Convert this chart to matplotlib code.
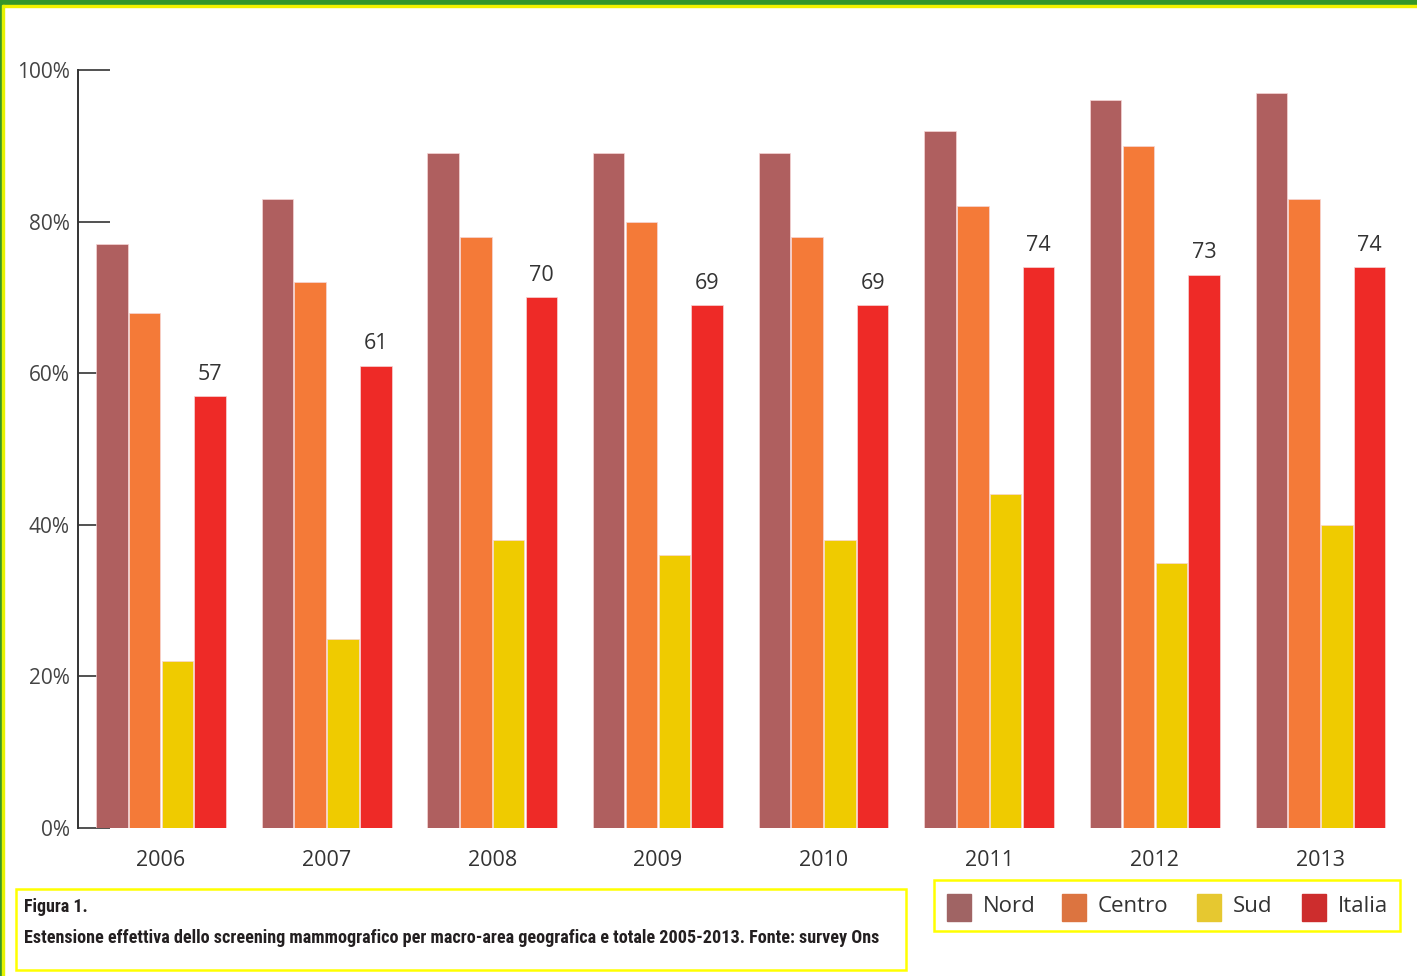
import matplotlib
matplotlib.use("Agg")
import matplotlib.pyplot as plt
from matplotlib.patches import Rectangle
import numpy as np

years = ["2006", "2007", "2008", "2009", "2010", "2011", "2012", "2013"]
series_names = ["Nord", "Centro", "Sud", "Italia"]
nord = [77, 83, 89, 89, 89, 92, 96, 97]
centro = [68, 72, 78, 80, 78, 82, 90, 83]
sud = [22, 25, 38, 36, 38, 44, 35, 40]
italia = [57, 61, 70, 69, 69, 74, 73, 74]
yticks = [0, 20, 40, 60, 80, 100]
ytick_labels = ["0%", "20%", "40%", "60%", "80%", "100%"]
caption_title = "Figura 1."
caption_text = ("Estensione effettiva dello screening mammografico per macro-area "
                "geografica e totale 2005-2013. Fonte: survey Ons")

bar_colors = ["#AF5F5F", "#F47A38", "#EFCB00", "#EE2A27"]
legend_colors = ["#A06464", "#DC7440", "#E6C830", "#CD2D2D"]

plt.rcParams['font.family'] = ['Open Sans', 'DejaVu Sans']

W, H = 1417, 976
fig = plt.figure(figsize=(W / 100, H / 100), dpi=100)
fig.patch.set_facecolor("white")

ax = fig.add_axes([78 / W, 1 - 828 / H, (1400 - 78) / W, (828 - 70) / H])
x = np.arange(len(years))
pitch = 0.198
width = 0.19
all_series = [nord, centro, sud, italia]
for i, (vals, col) in enumerate(zip(all_series, bar_colors)):
    bars = ax.bar(x + (i - 1.5) * pitch, vals, width=width, color=col,
                  edgecolor="#F6D6D6", linewidth=0.5, zorder=2)
    if series_names[i] == "Italia":
        for b, v in zip(bars, vals):
            ax.text(b.get_x() + b.get_width() / 2, v + 1.5, f"{v}",
                    ha="center", va="bottom", fontsize=15.5, color="#333333")

ax.set_xlim(-0.501, 7.48)
ax.set_ylim(0, 100)
ax.set_yticks(yticks)
ax.set_yticklabels(ytick_labels)
ax.set_xticks(x)
ax.set_xticklabels(years)
ax.set_axisbelow(True)
for s in ["top", "right", "bottom"]:
    ax.spines[s].set_visible(False)
ax.spines["left"].set_color("#333333")
ax.spines["left"].set_linewidth(1.4)
ax.tick_params(axis="y", direction="in", length=23, width=1.2, color="#333333",
               labelsize=15, labelcolor="#444444", pad=6)
ax.tick_params(axis="x", length=0, labelsize=15.5, labelcolor="#333333", pad=16)
ax.set_facecolor("none")

# overlay in pixel coordinates for frame, caption and legend
ov = fig.add_axes([0, 0, 1, 1], zorder=-1)
ov.set_xlim(0, W)
ov.set_ylim(H, 0)
ov.axis("off")
ov.add_patch(Rectangle((0, 0), W, 5, color="#35962A"))
ov.add_patch(Rectangle((0, 5), W, 2, color="#F2F200"))
ov.add_patch(Rectangle((0, 0), 2, H, color="#35962A"))
ov.add_patch(Rectangle((2, 5), 2, H, color="#E5F200"))

ov2 = fig.add_axes([0, 0, 1, 1], zorder=5)
ov2.set_xlim(0, W)
ov2.set_ylim(H, 0)
ov2.axis("off")
ov2.patch.set_alpha(0)
cap_family = ["Roboto Condensed", "Open Sans Condensed", "Lato", "DejaVu Sans"]
ov2.add_patch(Rectangle((16, 889), 890, 81, fill=False, edgecolor="#FFFF00", linewidth=1.8))
ov2.text(24, 907, caption_title, fontsize=13, fontweight="bold", color="#231F20",
         va="center", ha="left", family=cap_family)
ov2.text(24, 938, caption_text, fontsize=13.1, fontweight="bold", color="#231F20",
         va="center", ha="left", family=cap_family)

ov2.add_patch(Rectangle((934, 880), 466, 51, fill=False, edgecolor="#FFFF00", linewidth=1.8))
patch_x = [947, 1062, 1197, 1302]
for px, name, col in zip(patch_x, series_names, legend_colors):
    ov2.add_patch(Rectangle((px, 894), 24, 27, color=col))
    ov2.text(px + 36, 906, name, fontsize=16, color="#333333", va="center", ha="left")

fig.savefig("out.png", dpi=100, facecolor="white")
